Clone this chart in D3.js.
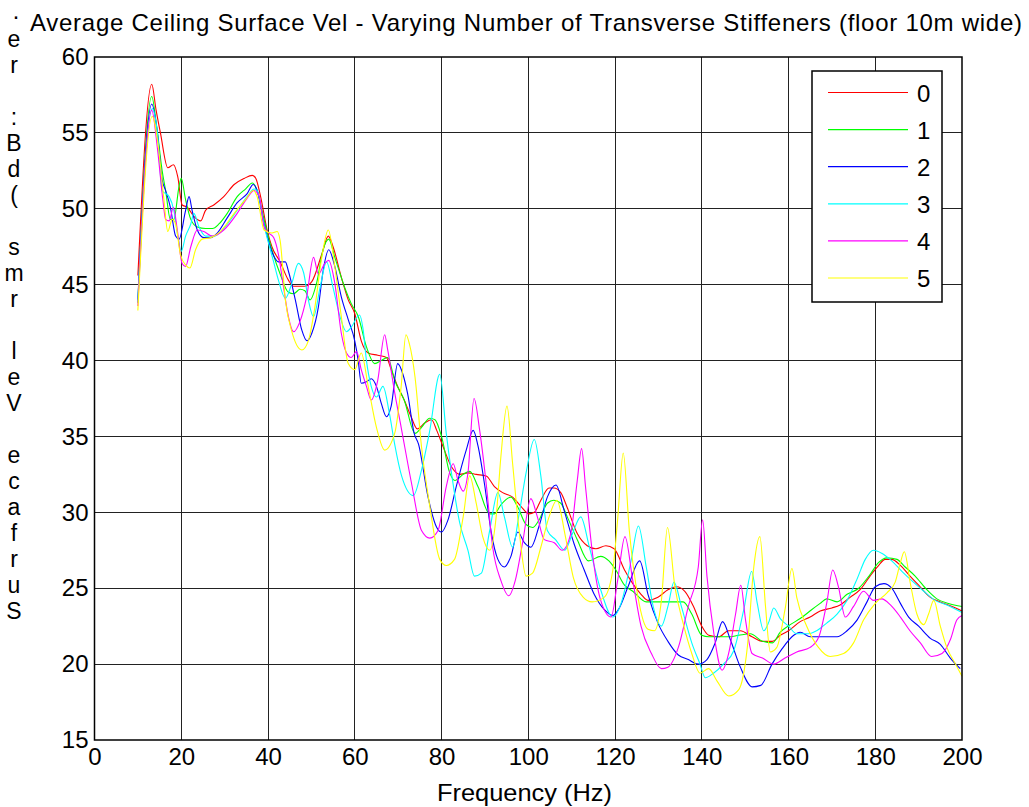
<!DOCTYPE html>
<html>
<head>
<meta charset="utf-8">
<script src="https://cdn.jsdelivr.net/npm/d3@7"></script>
<style>
body { margin: 0; background: #fff; }
text { font-family: "Liberation Sans", Arial, sans-serif; }
</style>
</head>
<body>
<div id="chart-area"></div>
<script>
// frequency (Hz), surface velocity (dB), one array per stiffener count
const s0 = [[10,45.6],[13.2,58.2],[14.2,56.5],[15.2,55],[16.9,52.7],[18.2,52.9],[19.2,52.1],[20.2,50.25],[21.4,50.1],[22.9,49.5],[24.5,49.2],[25.6,49.9],[27.5,50.25],[29.8,50.8],[32.2,51.6],[34.5,52.0],[36.4,52.2],[37.2,52.0],[38.3,50.8],[39.8,48.6],[40.9,47.5],[42.8,46.5],[44.7,45.3],[45.9,44.9],[48.5,44.9],[50.1,45.2],[52.4,47.0],[53.9,48.2],[55,47.5],[56.9,45.5],[58.5,44.0],[60,43.1],[61.5,41.3],[63.1,40.5],[65.3,40.35],[67.3,40.2],[68.4,39.4],[69.9,38.3],[71.4,37.4],[73,36.3],[74.4,35.5],[76.2,35.9],[77.7,36.1],[78.9,35.4],[80.4,34.3],[82.3,33.0],[84.2,32.5],[86.1,32.6],[88,32.5],[90.3,32.4],[92.2,31.7],[94.1,31.3],[96.4,31.0],[98.3,30.4],[100.2,29.9],[101.4,30.0],[102.9,30.8],[104.8,31.6],[105.9,31.6],[107.5,31.3],[109,30.3],[111.3,28.6],[113.6,27.8],[115.6,27.6],[117.9,27.8],[119.8,27.6],[122.2,26.2],[124.1,25.3],[126,24.6],[127.6,24.2],[129.9,24.4],[132.2,24.9],[134.2,25.1],[136.1,24.8],[138.1,23.8],[140,22.5],[141.6,21.9],[143.9,21.8],[146.2,22.2],[148.9,22.2],[151.6,21.8],[154,21.5],[156.3,21.5],[158.1,21.9],[160,22.2],[162.7,22.8],[165,23.1],[167.3,23.5],[170,23.7],[171.9,23.9],[174.2,24.4],[176.5,24.9],[178.8,25.8],[180.5,26.4],[182.3,26.9],[183.8,26.9],[185.8,26.5],[187.7,25.9],[190,25.2],[192.7,24.4],[195,24.1],[197.7,23.8],[200,23.5]]

const s1 = [[10,43.8],[13.2,57.4],[14.3,55.5],[15.6,52.5],[16.4,51.2],[17.5,49.3],[18.3,49.3],[19.5,51.5],[20,52],[21,50.6],[22.2,49.3],[23.7,48.8],[25.6,48.7],[27.2,48.7],[28.7,49.0],[30.6,49.7],[32.9,50.8],[34.8,51.3],[36.4,51.7],[37.5,51.2],[39.1,49.3],[40.9,47.3],[42.8,45.7],[44.7,44.5],[45.9,44.4],[47.4,44.7],[48.5,44.6],[49.7,44.0],[51.2,45.1],[52.7,47.3],[54,48.0],[55.4,46.8],[57.7,44.8],[59.2,43.75],[60.8,42.9],[62.7,40.9],[64.6,39.8],[66.1,40.0],[67.6,40.2],[69.2,38.7],[71.4,37.4],[73.9,35.2],[75.4,35.6],[77.3,36.2],[78.5,36.1],[80,35.0],[81.9,32.6],[83.1,32.1],[85,32.5],[86.5,32.7],[88.4,31.7],[91.1,29.9],[92.2,29.9],[93.7,30.5],[96,31.0],[97.5,30.4],[99.5,29.2],[101,29.0],[102.5,29.5],[104.4,30.6],[105.9,30.8],[107.5,30.6],[109,29.7],[111.3,28.2],[113.9,26.8],[116.7,27.1],[118.6,26.8],[120.2,26.2],[122.2,25.2],[124.1,24.8],[127.2,24.1],[130.7,24.1],[135.7,24.1],[137.7,23.3],[140,21.9],[141.6,21.8],[143.9,21.8],[146.2,21.8],[148.5,21.9],[151.2,22.0],[154,21.5],[156.3,21.4],[158.1,22.1],[160.4,22.6],[162.7,23.0],[165.4,23.6],[167.3,24.0],[168.8,24.3],[171.2,24.1],[173.5,24.6],[176.2,25.0],[178.8,25.9],[180.8,26.7],[182.7,27.0],[185,26.9],[186.9,26.4],[189.2,25.8],[191.9,24.9],[194.2,24.3],[196.9,24.0],[200,23.8]]

const s2 = [[10,44.0],[13.2,56.9],[14.5,55],[15.6,51.9],[16.4,51.2],[17.5,50.1],[18.7,48.2],[19.5,48],[21,49.9],[21.8,50.8],[22.5,49.9],[23.7,48.6],[25.2,48.1],[26.8,48.1],[28.3,48.4],[30.6,49.4],[32.9,50.4],[35.2,51.0],[36.6,51.6],[37.5,51.2],[39.1,49.0],[41.3,46.9],[42.4,46.5],[44,46.5],[44.7,45.9],[46.3,44.0],[47.8,42.0],[49,41.3],[50.1,41.8],[51.6,43.5],[52.7,45.9],[54,47.3],[55.4,46.2],[56.9,44.2],[58.5,42.7],[60,41.3],[60.8,40.0],[61.5,38.5],[62.7,38.6],[63.8,38.8],[65,38.3],[66.1,37.2],[67.3,36.3],[68.4,37.0],[69.9,39.8],[71.1,39.1],[72.2,37.8],[73.7,35.2],[74.7,34.5],[76.9,31.0],[78.9,29.0],[80,28.7],[81.5,29.5],[83.4,31.7],[85.7,34.1],[87.3,35.4],[88.4,34.4],[90,31.7],[91.4,28.8],[93,26.9],[94.5,26.4],[96,27.1],[97.6,28.7],[99.1,28.0],[100.6,27.7],[102.5,29.1],[104.4,31.0],[106.4,31.8],[108.3,30.1],[110.6,27.9],[112.9,26.2],[115.2,24.6],[117.5,23.6],[119.5,23.2],[121,23.7],[123,25.1],[125.7,26.8],[127.6,24.6],[129.9,22.7],[132.2,21.5],[134.6,20.6],[136.9,20.3],[139.2,20.0],[141.2,20.3],[143.1,21.4],[144.8,22.8],[146.6,21.6],[148.9,19.8],[151.6,18.5],[153.6,18.6],[156.2,20.0],[158.5,21.0],[161.2,21.9],[162.7,22.1],[165,21.8],[168.1,21.8],[171.2,21.8],[173.5,22.2],[175.8,22.9],[178.1,24.1],[180,25.1],[182,25.3],[183.8,25.0],[185.8,24.0],[187.7,23.1],[190,22.5],[192.7,21.7],[195,21.3],[197.3,20.4],[199.6,19.7]]

const s3 = [[10,43.9],[13.3,56.6],[14.5,55],[15.6,51.2],[17.2,50.8],[18.3,49.9],[19.2,48.2],[20,47.2],[21,48.2],[22.2,49.0],[22.9,49.7],[24.1,48.8],[25.6,48.2],[27.5,48.2],[29.8,48.7],[32.9,49.9],[35.2,50.8],[36.8,51.3],[37.5,51.2],[39.1,48.9],[41.3,46.5],[42.4,45.3],[44,44.1],[45.5,45.1],[47,46.4],[48.2,45.8],[49.3,44.0],[50.5,42.9],[52,44.8],[53.5,46.5],[55,44.8],[56.6,42.9],[58.1,41.9],[59.2,42.2],[61.1,43.0],[61.9,42.1],[62.7,40.0],[63.8,38.3],[65,37.6],[66.5,38.3],[68,36.5],[69.2,34.5],[70.8,32.4],[73.5,31.1],[75.4,32.8],[77.3,35.4],[79.6,39.1],[81.1,35.2],[82.3,32.6],[84.2,29.3],[86.1,27.5],[87.6,25.8],[89.2,26],[91.1,28.8],[93,31.3],[94.5,29.7],[96.4,27.7],[97.9,29.9],[99.5,32.6],[101.4,34.8],[102.9,32.4],[104.4,28.8],[106.3,28.2],[108.4,27.5],[110.2,28.6],[112.1,29.7],[114.1,27.7],[116.7,24.9],[119.5,23.1],[121.4,24.0],[123.7,26.8],[125.4,29.1],[127.2,26.4],[128.8,23.8],[130.7,22.5],[132.2,23.8],[133.6,25.4],[135.3,23.8],[137.7,21.4],[139.6,20.0],[140.8,19.1],[142.7,19.4],[145,20.0],[147.4,20.9],[149.7,23.6],[151.5,26.1],[152.8,24.0],[154.3,22.2],[155.5,22.8],[156.6,23.7],[158.1,23.0],[160,22.5],[161.9,22.0],[164.6,22.0],[166.5,22.2],[168.8,22.7],[171.2,23.3],[173.5,24.2],[175.8,25.6],[177.7,26.9],[179.6,27.5],[181.5,27.3],[183.8,26.8],[186.2,26.1],[188.8,25.4],[191.2,24.8],[193.8,24.2],[196.5,23.9],[200,23.4]]

const s4 = [[10,43.6],[13.2,56.5],[14.5,54],[15.8,50.5],[16.4,49.3],[17.2,49.2],[18.2,50.1],[19,48.8],[20.2,46.4],[21,46.2],[22.2,47.5],[23.7,48.6],[25.2,48.5],[27.2,48.2],[29.8,48.6],[32.9,49.7],[35.2,50.7],[36.8,51.2],[38,50.8],[39.1,48.8],[40.2,48.4],[41.3,48.1],[42.4,47.0],[43.6,44.8],[44.7,42.9],[45.9,41.9],[47.4,42.6],[48.9,44.2],[50.5,46.8],[51.6,45.7],[53.1,46.4],[54,46.6],[55.4,45.1],[56.9,41.8],[58.1,40.5],[59.2,40.2],[60.4,40.6],[61.5,39.4],[62.7,38.3],[63.8,37.4],[65.3,38.7],[66.9,41.7],[67.6,40.7],[69.2,37.9],[70.7,35.6],[73.1,31.9],[75.4,28.8],[77.3,28.3],[79.2,28.8],[81.1,31.7],[82.7,33.2],[83.8,32.1],[85,31.4],[86.1,32.6],[87.5,37.5],[88.8,35.4],[90.3,31.9],[91.8,27.7],[93.7,25.5],[95.5,24.5],[97,25.5],[98.7,28.0],[100.6,30.9],[102.1,29.7],[103.7,28.2],[106,28.0],[107.8,27.5],[109.8,28.6],[111.3,32.1],[112.3,34.2],[113.2,31.7],[114.8,27.3],[116.7,24.2],[119.1,23.1],[120.6,25.5],[122.3,28.4],[124.1,25.5],[126,22.5],[128.4,20.7],[130.7,19.7],[132.2,19.8],[134.6,21.1],[136.9,23.8],[139.2,26.4],[140.2,29.5],[141.2,25.8],[142.8,22.0],[144.7,19.6],[146.2,20.7],[147.8,23.3],[149,25.2],[150.1,22.9],[151.6,20.7],[154,20.4],[156.6,20.0],[159.2,20.4],[161.9,20.8],[165,21.1],[167,21.8],[168.8,24.0],[170.2,26.2],[171.5,25.1],[173.1,23.1],[175,23.8],[177.3,24.8],[179.6,24.2],[181.5,24.3],[183.5,23.9],[185.8,23.1],[188,22.2],[190.4,21.4],[193,20.5],[195.4,20.7],[197.3,21.6],[198.8,22.9],[200,23.2]]

const s5 = [[10,43.3],[13.3,56.1],[14.8,53.9],[16,50.6],[16.9,48.5],[17.9,49.3],[18.7,49.0],[19.8,47.0],[21,46.3],[22,46.1],[23.3,47.3],[24.8,48.0],[26.8,48.1],[29,48.5],[32.2,49.7],[34.8,50.6],[36.6,51.2],[37.5,50.8],[39.1,48.6],[40.9,48.4],[42.1,48.5],[42.8,47.9],[44,44.0],[45.5,41.9],[47.8,40.7],[49.3,41.3],[50.8,43.5],[52.4,46.8],[53.9,48.6],[55.4,46.2],[56.9,42.9],[58.5,39.8],[60,39.4],[61.5,40.5],[63.1,38.3],[65,35.6],[66.9,34.1],[69.2,35.2],[70.7,38.3],[71.8,41.7],[72.6,41.1],[73.9,38.9],[75.4,34.3],[77.3,30.4],[79.6,26.9],[81.1,26.5],[83,26.9],[85,29.7],[86.5,32.4],[88,30.6],[89.5,28.4],[91.1,27.5],[92.6,29.7],[93.7,33.7],[95.1,37.0],[96.4,33.2],[97.9,28.8],[99.5,25.8],[101,26],[102.9,27.7],[104.8,29.7],[106.6,30.8],[108.5,28.5],[110.4,25.7],[112.7,24.4],[114.7,24.1],[117.5,24.4],[119.5,26.2],[120.6,29.5],[121.9,33.9],[123.3,28.8],[125.3,24.4],[127.6,22.3],[129.1,22.2],[130.7,24.2],[132.1,29.0],[133.8,25.1],[135.7,22.7],[137.7,20.7],[139.6,19.4],[141.6,19.7],[143.5,18.9],[146.2,17.9],[148.5,18.3],[150.5,21.1],[152,26.4],[153.4,28.4],[154.7,23.8],[155.8,20.8],[157.3,21.1],[159.2,23.6],[160.8,26.3],[161.9,24.4],[164.2,22.5],[166.9,21.1],[169.6,20.5],[172.7,20.7],[175,21.4],[177.3,22.9],[180,24.0],[182.7,24.7],[184.6,25.4],[185.8,26.7],[186.7,27.4],[188.1,25.3],[189.6,23.3],[191.2,22.6],[192.3,23.3],[193.5,24.2],[195,22.5],[196.5,21.1],[198.5,20.0],[200,19.2]]

const seriesNames = ["0", "1", "2", "3", "4", "5"]
const seriesData = [s0, s1, s2, s3, s4, s5]
const colors = ["#ff0000", "#00ff00", "#0000ff", "#00ffff", "#ff00ff", "#ffff00"]
const xTicks = [0, 20, 40, 60, 80, 100, 120, 140, 160, 180, 200]
const yTicks = [15, 20, 25, 30, 35, 40, 45, 50, 55, 60]
const titleText = "Average Ceiling Surface Vel - Varying Number of Transverse Stiffeners (floor 10m wide)"
const yLabelChars = ["e","r","",":","B","d","(","","s","m","r","","l","e","V","","e","c","a","f","r","u","S"]

var cw = 1029
var ch = 807
var m = {l: 94.5, t: 57, r: 67, b: 67}
var w = cw - m.l - m.r
var h = ch - m.t - m.b

var svg = d3.select("#chart-area").append("svg")
    .attr("width", cw)
    .attr("height", ch)

var g = svg.append("g").attr("transform", "translate(" + m.l + ", " + m.t + ")")

var x = d3.scaleLinear().domain([0, 200]).range([0, w])
var y = d3.scaleLinear().domain([15, 60]).range([h, 0])

// grid
g.append("g").selectAll("line.vg")
    .data(xTicks.slice(1, -1))
    .enter().append("line")
    .attr("x1", d => x(d)).attr("x2", d => x(d))
    .attr("y1", 0).attr("y2", h)
    .attr("stroke", "#222").attr("stroke-width", 1)
    .attr("shape-rendering", "crispEdges")

g.append("g").selectAll("line.hg")
    .data(yTicks.slice(1, -1))
    .enter().append("line")
    .attr("x1", 0).attr("x2", w)
    .attr("y1", d => y(d)).attr("y2", d => y(d))
    .attr("stroke", "#222").attr("stroke-width", 1)
    .attr("shape-rendering", "crispEdges")

var bottomAxis = d3.axisBottom(x).tickValues(xTicks).tickSize(0).tickPadding(8)
var leftAxis = d3.axisLeft(y).tickValues(yTicks).tickSize(0).tickPadding(6)

var xAxisGroup = g.append("g")
    .attr("transform", "translate(0, " + h + ")")
    .call(bottomAxis)
var yAxisGroup = g.append("g").call(leftAxis)

xAxisGroup.select(".domain").remove()
yAxisGroup.select(".domain").remove()
xAxisGroup.selectAll("text").attr("font-size", "24px").attr("fill", "#000")
    .attr("font-family", "Liberation Sans, Arial, sans-serif")
yAxisGroup.selectAll("text").attr("font-size", "24px").attr("fill", "#000")
    .attr("font-family", "Liberation Sans, Arial, sans-serif")

// lines
var line = d3.line()
    .x(d => x(d[0]))
    .y(d => y(d[1]))
    .curve(d3.curveMonotoneX)

g.append("g").selectAll("path.series")
    .data(seriesData)
    .enter().append("path")
    .attr("class", "series")
    .attr("d", d => line(d))
    .attr("fill", "none")
    .attr("stroke", (d, i) => colors[i])
    .attr("stroke-width", 1.1)

// box
g.append("rect")
    .attr("x", 0).attr("y", 0)
    .attr("width", w).attr("height", h)
    .attr("fill", "none")
    .attr("stroke", "#000").attr("stroke-width", 1.5)

// legend
const legend = g.append("g")
    .attr("transform", `translate(${812 - m.l}, ${71 - m.t})`)

legend.append("rect")
    .attr("width", 130).attr("height", 231)
    .attr("fill", "#fff")
    .attr("stroke", "#000").attr("stroke-width", 1.5)

const legendItems = legend.selectAll(".legend-item")
    .data(seriesNames)
    .enter().append("g")
    .attr("class", "legend-item")
    .attr("transform", (d, i) => `translate(0, ${21.5 + i * 37.1})`)

legendItems.append("line")
    .attr("x1", 16).attr("x2", 96)
    .attr("stroke", (d, i) => colors[i])
    .attr("stroke-width", 1.2)

legendItems.append("text")
    .attr("x", 105).attr("y", 9)
    .attr("font-size", "24px")
    .text(d => d)

// title and labels
svg.append("text")
    .attr("x", 12).attr("y", 24)
    .attr("font-size", "24px")
    .text("\u00b7")

svg.append("text")
    .attr("x", 30).attr("y", 31)
    .attr("font-size", "24px")
    .attr("textLength", 992)
    .attr("lengthAdjust", "spacing")
    .text(titleText)

svg.append("text")
    .attr("x", 437).attr("y", 801)
    .attr("font-size", "24px")
    .attr("textLength", 175)
    .attr("lengthAdjust", "spacingAndGlyphs")
    .text("Frequency (Hz)")

svg.append("g").selectAll("text")
    .data(yLabelChars)
    .enter().append("text")
    .attr("x", 14)
    .attr("y", (d, i) => 47 + i * 26)
    .attr("text-anchor", "middle")
    .attr("font-size", "23px")
    .text(d => d)
</script>
</body>
</html>
